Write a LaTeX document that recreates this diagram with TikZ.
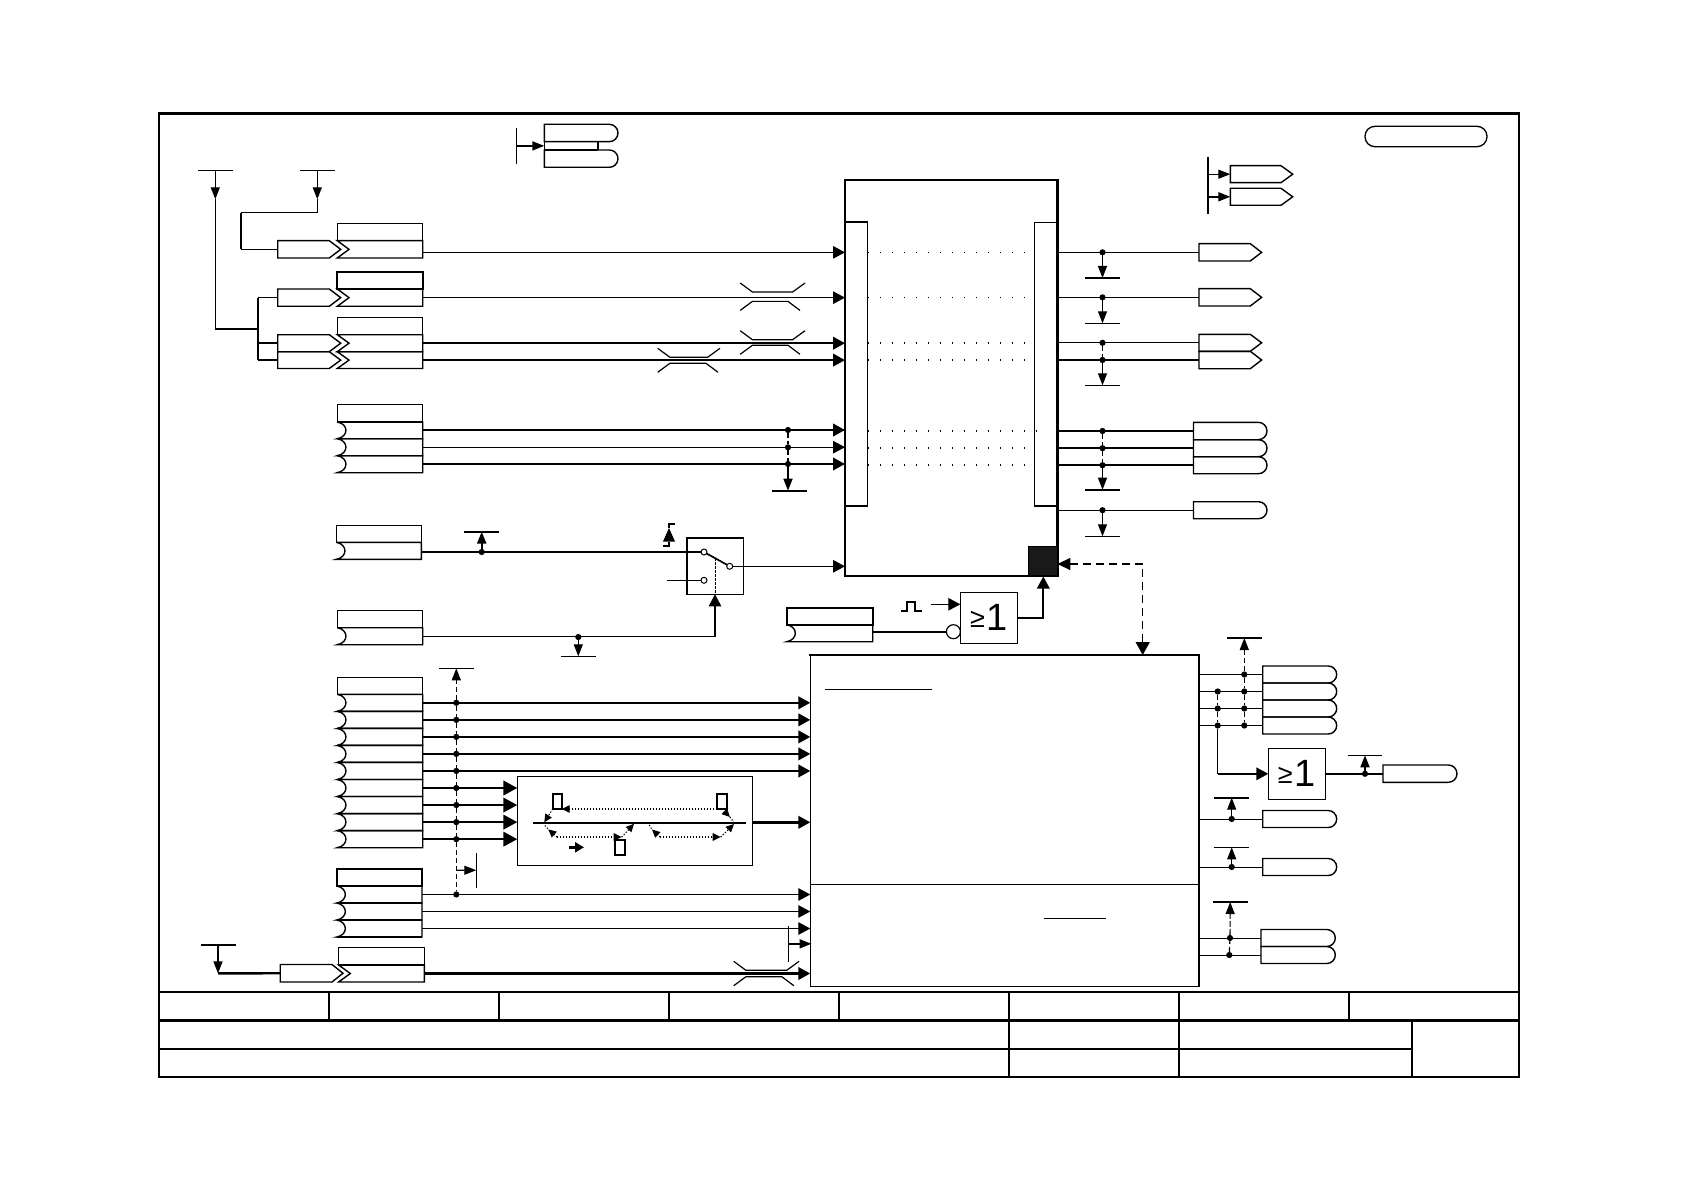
\documentclass[tikz,border=0pt]{standalone}
\usepackage{fontspec}
\setmainfont{Liberation Sans}
\usetikzlibrary{arrows.meta,calc}
\tikzset{
  thinl/.style={line width=1.2pt,line cap=butt},
  hairl/.style={line width=0.9pt},
  medl/.style={line width=1.7pt},
  thickl/.style={line width=2.4pt},
  framel/.style={line width=2.2pt},
  bx/.style={inner sep=0pt,outer sep=0pt,draw=none},
  boxl/.style={line width=1.4pt,line join=miter},
  boxk/.style={line width=2.1pt,line join=miter},
  jn/.style={circle,fill=black,inner sep=0pt,outer sep=0pt,minimum size=6.2pt},
  oc/.style={circle,draw=black,fill=white,line width=1pt,inner sep=0pt,outer sep=0pt,minimum size=6pt},
  barn/.style={fill=black,inner sep=0pt,outer sep=0pt,minimum height=1.2pt},
  bark/.style={fill=black,inner sep=0pt,outer sep=0pt,minimum height=2.4pt},
  vbarn/.style={fill=black,inner sep=0pt,outer sep=0pt,minimum width=1.2pt},
  vbark/.style={fill=black,inner sep=0pt,outer sep=0pt,minimum width=2.4pt},
  arM/.style={-{Triangle[length=12pt,width=12.5pt]}},
  arL/.style={-{Triangle[length=14pt,width=14.5pt]}},
  arT/.style={-{Triangle[length=12pt,width=9pt]}},
  arS/.style={-{Triangle[length=8pt,width=7.5pt]}},
  dashl/.style={line width=1.2pt,dash pattern=on 5pt off 3pt},
  dotl/.style={line width=1.5pt,dash pattern=on 1.5pt off 10.5pt},
  finel/.style={line width=1.1pt,dash pattern=on 1.2pt off 1.8pt},
}
\newcommand\PlainBox[6][boxl]{%
  \pgfmathsetmacro\bxW{#4-#2}\pgfmathsetmacro\bxH{#5-#3}%
  \node[bx,anchor=north west,minimum width=\bxW pt,minimum height=\bxH pt] (#6) at (#2,#3) {};
  \draw[#1] (#2,#3) rectangle (#4,#5);}
\newcommand\NotchBox[5]{%
  \pgfmathsetmacro\bxW{#3-#2+0}%
  \pgfmathsetmacro\bxH{#5-#4}\pgfmathsetmacro\bxM{(#4+#5)/2}\pgfmathsetmacro\bxN{#2+11.7}%
  \node[bx,anchor=north west,minimum width=\bxW pt,minimum height=\bxH pt] (#1) at (#2,#4) {};
  \draw[boxl] (#2,#4) -- (#3,#4) -- (#3,#5) -- (#2,#5) -- (\bxN,\bxM) -- cycle;}
\newcommand\ScoopBox[5]{%
  \pgfmathsetmacro\bxW{#3-#2}\pgfmathsetmacro\bxH{#5-#4}\pgfmathsetmacro\bxN{#2+11.5}%
  \pgfmathsetmacro\bxA{#4+2}\pgfmathsetmacro\bxB{#5-2}%
  \node[bx,anchor=north west,minimum width=\bxW pt,minimum height=\bxH pt] (#1) at (#2,#4) {};
  \draw[boxl] (#2,#4) -- (#3,#4) -- (#3,#5) -- (#2,#5) .. controls (\bxN,\bxB) and (\bxN,\bxA) .. (#2,#4);}
\newcommand\PentaBox[6]{%
  \pgfmathsetmacro\bxW{#4-#2}\pgfmathsetmacro\bxH{#6-#5}\pgfmathsetmacro\bxM{(#5+#6)/2}%
  \node[bx,anchor=north west,minimum width=\bxW pt,minimum height=\bxH pt] (#1) at (#2,#5) {};
  \draw[boxl] (#2,#5) -- (#3,#5) -- (#4,\bxM) -- (#3,#6) -- (#2,#6) -- cycle;}
\newcommand\RoundBox[5]{%
  \pgfmathsetmacro\bxW{#3-#2}\pgfmathsetmacro\bxH{#5-#4}\pgfmathsetmacro\bxR{(#5-#4)/2}\pgfmathsetmacro\bxS{#3-\bxR}%
  \node[bx,anchor=north west,minimum width=\bxW pt,minimum height=\bxH pt] (#1) at (#2,#4) {};
  \draw[boxl] (#2,#4) -- (\bxS,#4) arc[start angle=90,end angle=-90,radius=\bxR pt] -- (#2,#5) -- cycle;}
\newcommand\Squeeze[5]{% x0, end of upper flat, end of lower flat, inner offset, y centre
  \draw[thinl] (#1,#5-#4-9) -- (#1+12.2,#5-#4) -- (#2,#5-#4) -- (#2+12.4,#5-#4-9);
  \draw[thinl] (#1,#5+#4+9) -- (#1+12.2,#5+#4) -- (#3,#5+#4) -- (#3+12,#5+#4+9);}
\begin{document}
\begin{tikzpicture}[x=1pt,y=-1pt]
\useasboundingbox (0,0) rectangle (1684,1190);
% ---- frame and title block
\draw[framel] (159,113.3) rectangle (1518.7,1077);
\draw[line width=2.8pt] (159,113.3) -- (1518.7,113.3);
\coordinate (tL) at (159,991.7); \coordinate (tR) at (1518.7,991.7);
\draw[line width=1.6pt] (tL) -- (tR);
\draw[line width=2.6pt] (159,1020.3) -- (1518.7,1020.3);
\draw[framel] (159,1049) -- (1411.6,1049);
\foreach \xx in {329,499,669,839,1009,1179,1349} \draw[line width=1.6pt] (\xx,991.7) -- (\xx,1020.3);
\foreach \xx in {1009,1179} \draw[line width=1.6pt] (\xx,1020.3) -- (\xx,1077);
\draw[framel] (1411.6,1020.3) -- (1411.6,1077);
% pill
\draw[line width=1.3pt,rounded corners=10pt] (1365,126.3) rectangle (1487,146.7);
% ---- top block
\PlainBox[boxk]{845}{180}{1057.5}{575.7}{A}
\PlainBox[boxl]{845}{221.7}{867.7}{506}{AL}
\PlainBox[hairl]{1034}{222}{1057.5}{506}{AR}
\draw[medl] (AR.south west) -- (AR.south east);
\draw[medl] (AL.north west) -- (AL.north east);
\node[bx,fill=black!90,draw=black,line width=1pt,anchor=north west,minimum width=29pt,minimum height=29pt] (blk) at (1028.4,546.6) {};
% dotted rows
\foreach \yy in {252.3,297.3,343,360,448,465} \draw[dotl] (AL.east |- 0,\yy) -- (1024.5,\yy);
\draw[dotl] (AL.east |- 0,431) -- (1036.5,431);
% ---- lower block
\PlainBox[thinl]{810.3}{655}{1199}{986.3}{B}
\draw[thickl] (809,655) -- (1200,655);
\draw[medl] (1199,655) -- (1199,986.3);
\draw[thinl] (B.west |- 0,884.3) -- (B.east |- 0,884.3);
\coordinate (u1) at (825,689); \coordinate (u2) at (931.7,689); \draw[hairl] (u1) -- (u2);
\coordinate (u3) at (1044,918.3); \coordinate (u4) at (1106,918.3); \draw[hairl] (u3) -- (u4);
% ---- top middle pair
\RoundBox{ta}{544.3}{618}{124.3}{141.7}
\RoundBox{tb}{544.3}{618}{150}{167.3}
\PlainBox[boxl]{544.3}{141.7}{597.7}{150}{tm}
\draw[medl] (597.7,141.7) -- (597.7,150);
\node[vbarn,minimum height=35.4pt] (v0) at (516.7,146) {};
\draw[medl,arT] (v0.center) -- (tm.west);
% ---- top right pair
\node[vbark,minimum height=57pt] (v1) at (1207.7,185.8) {};
\PentaBox{tp1}{1230.3}{1281}{1292.7}{165.7}{182.7}
\PentaBox{tp2}{1230.3}{1281}{1292.7}{188.3}{205.3}
\draw[thinl,arT] (v1.center |- tp1.west) -- (tp1.west);
\draw[medl,arT] (v1.center |- tp2.west) -- (tp2.west);
% ---- input group top left
\node[barn,minimum width=34.7pt] (t1) at (215.3,170.3) {};
\node[barn,minimum width=34.7pt] (t2) at (317.3,170.3) {};
\coordinate (a1) at (215.3,199.3); \coordinate (a2) at (317.3,199.3);
\draw[thinl,arT] (t1.center) -- (a1);
\draw[thinl,arT] (t2.center) -- (a2);
\PentaBox{p1}{277.7}{329.3}{340.7}{240.7}{258}
\PentaBox{p2}{277.7}{329.3}{340.7}{289}{306.3}
\PentaBox{p3}{277.7}{329.3}{340.7}{334.7}{351.7}
\PentaBox{p4}{277.7}{329.3}{340.7}{351.7}{368.5}
\PlainBox[boxl]{337.3}{223.7}{422.7}{240.7}{h1}
\NotchBox{r1}{337.3}{422.7}{240.7}{258}
\PlainBox[boxk]{337.3}{272}{422.7}{289}{h2}
\NotchBox{r2}{337.3}{422.7}{289}{306.3}
\PlainBox[boxl]{337.3}{317.3}{422.7}{334.7}{h3}
\NotchBox{r3}{337.3}{422.7}{334.7}{351.7}
\NotchBox{r4}{337.3}{422.7}{351.7}{368.5}
\coordinate (jv1) at (257.7,329);
\coordinate (e2) at (241,212.7);
\draw[thinl] (a1) -- (a1 |- jv1);
\draw[thickl] (a1 |- jv1) -- (jv1);
\draw[medl] (jv1 |- p2.west) -- (jv1 |- p4.west);
\draw[thinl] (jv1 |- p2.west) -- (p2.west);
\draw[medl] (jv1 |- p3.west) -- (p3.west);
\draw[medl] (jv1 |- p4.west) -- (p4.west);
\draw[thinl] (a2) -- (a2 |- e2) -- (e2);
\draw[medl] (e2) -- (e2 |- p1.west);
\draw[thinl] (e2 |- p1.west) -- (p1.west);
\draw[thinl,arM] ([yshift=-3pt]r1.east) -- ([yshift=-3pt]r1.east -| A.west);
\draw[thinl,arM] (r2.east) -- (r2.east -| A.west);
\draw[thickl,arM] (r3.east) -- (r3.east -| A.west);
\draw[thickl,arM] (r4.east) -- (r4.east -| A.west);
\Squeeze{740.2}{792.6}{788}{4.7}{296.7}
\Squeeze{740.2}{792.6}{788}{2.8}{342.5}
\Squeeze{657.7}{707.6}{706}{3}{360.3}
% ---- input group 4
\PlainBox[boxl]{337.3}{404.7}{422.7}{422}{h4}
\ScoopBox{s1}{337.3}{422.7}{422}{438.7}
\ScoopBox{s2}{337.3}{422.7}{438.7}{455.7}
\ScoopBox{s3}{337.3}{422.7}{455.7}{472.7}
\draw[thickl,arM] (s1.east |- 0,430) -- (A.west |- 0,430);
\draw[thinl,arM] (s2.east) -- (s2.east -| A.west);
\draw[thickl,arM] (s3.east |- 0,464) -- (A.west |- 0,464);
\node[jn] (j41) at (788,430) {};
\node[jn] (j42) at (788,447.3) {};
\node[jn] (j43) at (788,464) {};
\node[bark,minimum width=34.5pt] (b4) at (789.5,490.7) {};
\draw[dashl] (j41) -- (j42); \draw[dashl] (j42) -- (j43);
\draw[medl,arT] (j43) -- (j43 |- b4.center);
% ---- right outputs of A
\PentaBox{o1}{1199}{1250.3}{1261.6}{243.7}{261}
\PentaBox{o2}{1199}{1250.3}{1261.6}{288.7}{306}
\PentaBox{o3}{1199}{1250.3}{1261.6}{334.3}{351.3}
\PentaBox{o4}{1199}{1250.3}{1261.6}{351.3}{368.7}
\RoundBox{o5}{1193.5}{1267}{422.3}{439.7}
\RoundBox{o6}{1193.5}{1267}{439.7}{456.7}
\RoundBox{o7}{1193.5}{1267}{456.7}{473.7}
\RoundBox{o8}{1193.5}{1267}{501.7}{518.7}
\draw[thinl] (A.east |- o1.west) -- (o1.west);
\draw[thinl] (A.east |- o2.west) -- (o2.west);
\draw[thinl] (A.east |- o3.west) -- (o3.west);
\draw[thickl] (A.east |- o4.west) -- (o4.west);
\draw[thickl] (A.east |- o5.west) -- (o5.west);
\draw[thickl] (A.east |- o6.west) -- (o6.west);
\draw[thickl] (A.east |- o7.west) -- (o7.west);
\draw[thinl] (A.east |- o8.west) -- (o8.west);
\coordinate (col) at (1102.5,0);
\foreach \i in {1,...,8} \node[jn] (k\i) at (col |- o\i.west) {};
\node[bark,minimum width=34.5pt] (b1) at (1102.5,278) {};
\node[barn,minimum width=34.5pt] (b2) at (1102.5,323.3) {};
\node[barn,minimum width=34.5pt] (b3) at (1102.5,385.3) {};
\node[bark,minimum width=34.5pt] (b5) at (1102.5,489.7) {};
\node[barn,minimum width=34.5pt] (b6) at (1102.5,536.3) {};
\draw[thinl,arT] (k1) -- (b1.center);
\draw[thinl,arT] (k2) -- (b2.center);
\draw[dashl] (k3) -- (k4);
\draw[thinl,arT] (k4) -- (b3.center);
\draw[dashl] (k5) -- (k6); \draw[dashl] (k6) -- (k7);
\draw[thinl,arT] (k7) -- (b5.center);
\draw[thinl,arT] (k8) -- (b6.center);
% ---- switch
\PlainBox[boxl]{336.3}{525.3}{421.3}{542.3}{h5}
\ScoopBox{s5}{336.3}{421.3}{542.3}{559.3}
\PlainBox[boxl]{337.3}{610.7}{422.7}{627.7}{h6}
\ScoopBox{s6}{337.3}{422.7}{627.7}{644.7}
\PlainBox[boxl]{686.7}{537.7}{743.3}{594.3}{sw}
\draw[boxk] (686.7,594.3) -- (686.7,537.7) -- (743.3,537.7);
\node[oc] (c1) at (704,552) {};
\node[oc] (c2) at (729.7,566.3) {};
\node[oc] (c3) at (704,580.3) {};
\coordinate (stub) at (666.7,580.3);
\draw[thinl] (stub) -- (c3);
\draw[medl] (c1) -- (c2);
\draw[thickl] (c1 -| s5.east) -- (c1);
\draw[thinl,arM] (c2) -- (c2 -| A.west);
\coordinate (bl) at ($(c1)!0.44!(c2)$);
\draw[line width=1.1pt,dash pattern=on 2.5pt off 1.5pt] (bl) -- (bl |- sw.south);
\draw[thinl,arM] (s6.east) -| (sw.south);
\node[jn] (j51) at (481.7,552) {};
\node[bark,minimum width=34.7pt] (b51) at (481.7,531.7) {};
\draw[thickl,arT] (j51) -- (b51.center);
\node[jn] (j61) at (578.3,637) {};
\node[barn,minimum width=34.7pt] (b61) at (578.3,656.3) {};
\draw[thinl,arT] (j61) -- (b61.center);
% step symbol
\coordinate (stA) at (669,528); \coordinate (stB) at (669,542);
\fill (stA) -- (675,541.5) -- (663,541.5) -- cycle;
\draw[medl] (stB) -- (669,546) -- (663.3,546);
\draw[medl] (stA) -- (669,523.7) -- (675,523.7);
% ---- group 7
\PlainBox[boxl]{337.3}{677.3}{422.7}{694.3}{h7}
\foreach \i/\yt/\yb in {1/694.3/711.3,2/711.3/728.4,3/728.4/745.4,4/745.4/762.4,5/762.4/779.5,6/779.5/796.5,7/796.5/813.6,8/813.6/830.6,9/830.6/847.7}
  {\ScoopBox{g\i}{337.3}{422.7}{\yt}{\yb}}
\PlainBox[thinl]{517.3}{776.3}{752.3}{865.3}{ib}
\foreach \i in {1,...,5} \draw[thickl,arM] (g\i.east) -- (g\i.east -| B.west);
\foreach \i in {6,...,9} \draw[thickl,arL] (g\i.east) -- (g\i.east -| ib.west);
\draw[thickl,arM] (ib.east |- 0,822.3) -- (B.west |- 0,822.3);
\coordinate (colA) at (456.3,0);
\foreach \i in {1,...,9} \node[jn] (ja\i) at (g\i.east -| colA) {};
\node[barn,minimum width=34.7pt] (b7) at (456.3,668.3) {};
\draw[dashl,arT] (ja1) -- (b7.center);
\foreach \i/\n in {1/2,2/3,3/4,4/5,5/6,6/7,7/8,8/9} \draw[dashl] (ja\i) -- (ja\n);
% group 8
\PlainBox[boxk]{336.7}{869}{422}{886}{h8}
\ScoopBox{m1}{336.7}{422}{886}{903}
\ScoopBox{m2}{336.7}{422}{903}{920}
\ScoopBox{m3}{336.7}{422}{920}{937}
\draw[boxk] (336.7,886) -- (422,886) (336.7,903) -- (422,903) (336.7,920) -- (422,920) (336.7,937) -- (422,937);
\draw[thinl,arM] (m1.east) -- (m1.east -| B.west);
\draw[thinl,arM] (m2.east) -- (m2.east -| B.west);
\draw[thinl,arM] (m3.east) -- (m3.east -| B.west);
\node[jn] (ja10) at (m1.east -| colA) {};
\draw[dashl] (ja9) -- (ja10);
\node[vbarn,minimum height=35pt] (vk) at (476.3,870.2) {};
\coordinate (dk) at (456.3,870.3);
\draw[thinl,arT] (dk) -- (vk.center);
\node[vbarn,minimum height=35.7pt] (vq) at (788.3,943.8) {};
\draw[medl,arT] (vq.center) -- (811.5,943.8);
% group 9
\PlainBox[boxl]{338.6}{947.7}{424.3}{965}{h9}
\NotchBox{r9}{338.6}{424.3}{965}{982}
\PentaBox{p9}{280.2}{332}{343}{964.5}{982}
\node[bark,minimum width=35pt] (t9) at (218,945) {};
\coordinate (a9) at (218,973.4);
\draw[thinl,arT] (t9.center) -- (a9);
\draw[thickl] (a9) -- (p9.west);
\draw[thickl,arM] (r9.east) -- (r9.east -| B.west);
\Squeeze{733.7}{786.7}{781.8}{3.2}{973.5}
% ---- inner diagram
\coordinate (lnL) at (533,822.7); \coordinate (lnR) at (746.3,822.7);
\draw[thickl] (lnL) -- (lnR);
\PlainBox[medl]{552.7}{794.3}{561.7}{809}{sm1}
\PlainBox[medl]{717.3}{794.3}{726.7}{809}{sm2}
\PlainBox[medl]{615.3}{840}{624.7}{854.7}{sm3}
\coordinate (d1) at (730,817); \coordinate (d2) at (733.5,822);
\coordinate (d3) at (544.3,822.3);
\coordinate (d4) at (545,825.5); \coordinate (d5) at (548.3,829.3); \coordinate (d6) at (557,837);
\coordinate (d7) at (621.7,837); \coordinate (d8) at (634,823.8);
\coordinate (d9) at (649.3,825); \coordinate (d10) at (652,829.5); \coordinate (d11) at (660,837);
\coordinate (d12) at (720.7,837); \coordinate (d13) at (734,824);
\draw[finel,arS] (sm2.south west) -- (sm1.south east);
\draw[finel,arS] (sm2.south) -- (d1);
\draw[finel] (d1) -- (d2);
\draw[finel,arS] (sm1.south west) -- (d3);
\draw[finel] (d4) -- (d5);
\draw[finel,arS] (d6) -- (d5);
\draw[finel,arS] (d6) -- (d7);
\draw[finel,arS] (d7) -- (d8);
\draw[finel] (d9) -- (d10);
\draw[finel,arS] (d11) -- (d10);
\draw[finel,arS] (d11) -- (d12);
\draw[finel,arS] (d12) -- (d13);
\coordinate (sa1) at (569.3,847.3); \coordinate (sa2) at (584,847.3);
\draw[thickl,-{Triangle[length=9pt,width=10pt]}] (sa1) -- (sa2);
% ---- gate 1
\PlainBox[boxk]{786.7}{607.7}{872.7}{624.7}{h10}
\ScoopBox{s10}{786.7}{872.7}{624.7}{641.7}
\node[draw=black,line width=1.2pt,fill=white,inner sep=0pt,outer sep=0pt,minimum width=57.4pt,minimum height=51pt,font=\fontsize{38}{38}\selectfont] (g1gate) at (989,617.8) {\raisebox{3pt}{\fontsize{27}{27}\selectfont ≥}\kern 2pt 1};
\node[oc,minimum size=14pt,line width=1.2pt] (cg) at (953.4,631.7) {};
\draw[medl] (cg -| s10.east) -- (cg);
\coordinate (pA) at (930.7,604.3);
\draw[thinl,arM] (pA) -- (pA -| g1gate.west);
\coordinate (pu0) at (901,611); \coordinate (pu1) at (921.7,611);
\draw[medl] (pu0) -- (907,611) -- (907,602.3) -- (915.3,602.3) -- (915.3,611) -- (pu1);
\draw[medl,arM] (g1gate.east |- 0,618) -| (1043.3,576.5);
\coordinate (dc) at (1142.7,564);
\draw[line width=1.4pt,dash pattern=on 8pt off 5pt,{Triangle[length=13pt,width=12pt]}-{Triangle[length=13pt,width=14pt]}] (blk.east |- dc) -- (dc) -- (dc |- B.north);
% ---- right outputs of B
\RoundBox{q1}{1262.7}{1336.7}{666}{683}
\RoundBox{q2}{1262.7}{1336.7}{683}{700}
\RoundBox{q3}{1262.7}{1336.7}{700}{717}
\RoundBox{q4}{1262.7}{1336.7}{717}{734}
\foreach \i in {1,...,4} \draw[thinl] (B.east |- q\i.west) -- (q\i.west);
\coordinate (colQ) at (1244.3,0); \coordinate (colP) at (1217.7,0);
\foreach \i in {1,...,4} \node[jn] (qa\i) at (colQ |- q\i.west) {};
\foreach \i in {2,...,4} \node[jn] (qb\i) at (colP |- q\i.west) {};
\node[bark,minimum width=34.7pt] (bq) at (1244.3,638) {};
\draw[dashl,arT] (qa1) -- (bq.center);
\draw[dashl] (qa1) -- (qa2); \draw[dashl] (qa2) -- (qa3); \draw[dashl] (qa3) -- (qa4);
\draw[dashl] (qb2) -- (qb3); \draw[dashl] (qb3) -- (qb4);
\node[draw=black,line width=1.2pt,fill=white,inner sep=0pt,outer sep=0pt,minimum width=57pt,minimum height=51pt,font=\fontsize{38}{38}\selectfont] (g2gate) at (1296.8,773.8) {\raisebox{3pt}{\fontsize{27}{27}\selectfont ≥}\kern 2pt 1};
\draw[thinl] (qb4) -- (qb4 |- g2gate.west);
\draw[medl,arM] (qb4 |- g2gate.west) -- (g2gate.west);
\RoundBox{q5}{1383}{1457}{765}{782.3}
\draw[medl] (g2gate.east) -- (g2gate.east -| q5.west);
\node[jn] (qj5) at (1365,773.8) {};
\node[barn,minimum width=34.7pt] (bq5) at (1365,755.3) {};
\draw[medl,arT] (qj5) -- (bq5.center);
\RoundBox{q6}{1262.7}{1336.7}{810.5}{827.5}
\RoundBox{q7}{1262.7}{1336.7}{858.5}{875.5}
\draw[hairl] (B.east |- q6.west) -- (q6.west);
\draw[hairl] (B.east |- q7.west) -- (q7.west);
\node[jn] (qj6) at (1231.7,819) {};
\node[jn] (qj7) at (1231.7,867) {};
\node[bark,minimum width=34.7pt] (bq6) at (1231.7,797.7) {};
\node[barn,minimum width=34.7pt] (bq7) at (1231.7,847.3) {};
\draw[thinl,arT] (qj6) -- (bq6.center);
\draw[thinl,arT] (qj7) -- (bq7.center);
\RoundBox{q8}{1261}{1335.3}{929.5}{946.5}
\RoundBox{q9}{1261}{1335.3}{946.5}{963.5}
\draw[hairl] (B.east |- q8.west) -- (q8.west);
\draw[hairl] (B.east |- q9.west) -- (q9.west);
\node[jn] (qj8) at (1230,938) {};
\node[jn] (qj9) at (1229.3,955) {};
\node[barn,minimum width=34.7pt] (bq8) at (1230.2,902) {};
\draw[dashl] (qj9) -- (qj8);
\draw[dash pattern=on 6pt off 2pt,line width=1.1pt,arT] (qj8) -- (bq8.center);
\end{tikzpicture}
\end{document}
